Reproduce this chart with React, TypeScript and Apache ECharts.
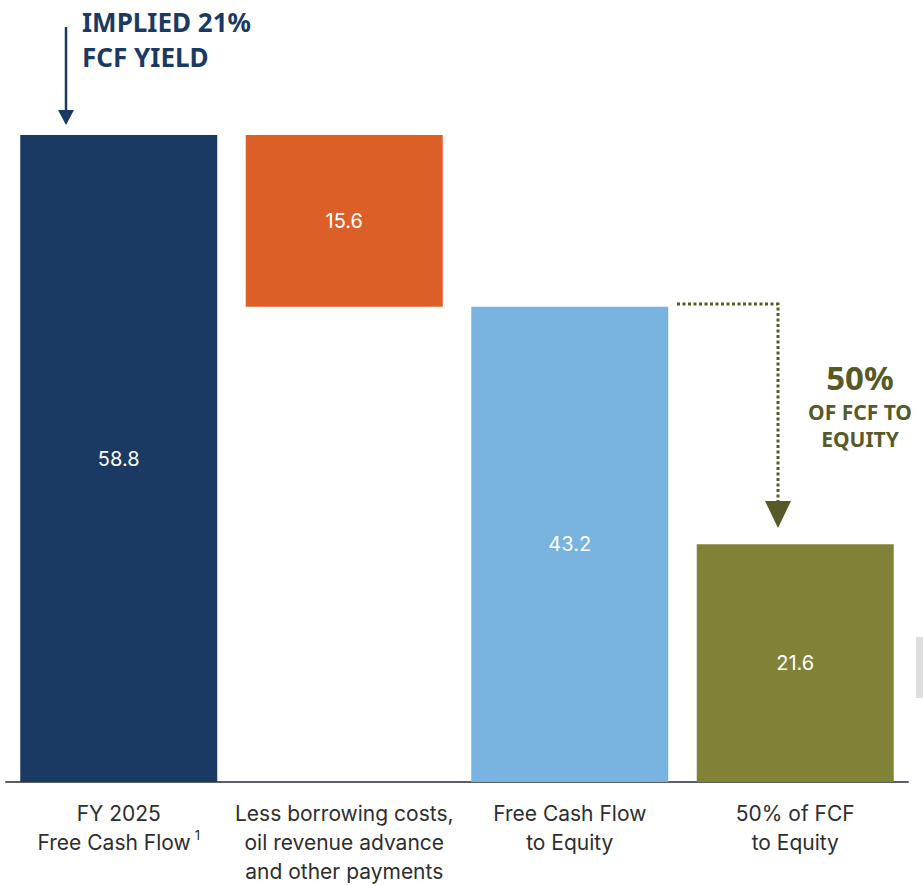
import React, { useEffect, useRef } from "react";
import * as echarts from "echarts";

const categories = [
  "FY 2025\nFree Cash Flow{sup|1}",
  "Less borrowing costs,\noil revenue advance\nand other payments",
  "Free Cash Flow\nto Equity",
  "50% of FCF\nto Equity",
];
const baseValues = [0, 43.2, 0, 0];
const barValues = [58.8, 15.6, 43.2, 21.6];
const barColors = ["#1b3a63", "#dd5f28", "#79b3df", "#808238"];

const NAVY = "#1b3a63";
const OLIVE = "#575a27";
const FONT = "Inter, 'Noto Sans', sans-serif";
const HFONT = "'Noto Sans', sans-serif";

export default function App() {
  const ref = useRef<HTMLDivElement>(null);
  useEffect(() => {
    if (!ref.current) return;
    const chart = echarts.init(ref.current, undefined, { renderer: "svg" });
    chart.setOption({
      animation: false,
      backgroundColor: "#ffffff",
      grid: { left: 6, right: 15, top: 135, bottom: 94, containLabel: false },
      xAxis: {
        type: "category",
        data: categories,
        axisLine: { show: true, lineStyle: { color: "#5b6068", width: 2 } },
        axisTick: { show: false },
        axisLabel: {
          interval: 0,
          margin: 17,
          color: "#2e2e2e",
          fontFamily: FONT,
          fontSize: 21,
          lineHeight: 29,
          rich: {
            sup: { fontSize: 13, verticalAlign: "top", lineHeight: 20, color: "#2e2e2e", fontFamily: FONT, padding: [0, 0, 12, 4] },
          },
        },
      },
      yAxis: { type: "value", min: 0, max: 58.8, show: false, splitLine: { show: false } },
      series: [
        {
          type: "bar",
          stack: "w",
          data: baseValues,
          barWidth: 197,
          itemStyle: { color: "transparent" },
          silent: true,
        },
        {
          type: "bar",
          stack: "w",
          barWidth: 197,
          data: barValues.map((v, i) => ({ value: v, itemStyle: { color: barColors[i] } })),
          label: {
            show: true,
            position: "inside",
            color: "#ffffff",
            fontFamily: FONT,
            fontSize: 20,
            formatter: (p: any) => p.value.toFixed(1),
          },
        },
      ],
      graphic: [
        // Navy arrow
        { type: "line", shape: { x1: 66, y1: 27, x2: 66, y2: 112 }, style: { stroke: NAVY, lineWidth: 2.5 } },
        { type: "polygon", shape: { points: [[58, 110], [74, 110], [66, 125]] }, style: { fill: NAVY } },
        {
          type: "text",
          x: 82,
          y: 22,
          style: { text: "IMPLIED 21%", fill: NAVY, font: `bold 26px ${HFONT}`, verticalAlign: "middle" },
        },
        {
          type: "text",
          x: 82,
          y: 57,
          style: { text: "FCF YIELD", fill: NAVY, font: `bold 26px ${HFONT}`, verticalAlign: "middle" },
        },
        // Olive dotted arrow
        {
          type: "polyline",
          shape: { points: [[677, 304], [778, 304], [778, 502]] },
          style: { stroke: OLIVE, lineWidth: 3, lineDash: [3, 2.5], fill: "none" },
        },
        { type: "polygon", shape: { points: [[765, 501], [791, 501], [778, 528]] }, style: { fill: OLIVE } },
        {
          type: "text",
          x: 860,
          y: 377,
          style: { text: "50%", fill: OLIVE, font: `bold 33px ${HFONT}`, align: "center", verticalAlign: "middle", lineHeight: 30 },
        },
        {
          type: "text",
          x: 860,
          y: 412,
          style: { text: "OF FCF TO", fill: OLIVE, font: `bold 21px ${HFONT}`, align: "center", verticalAlign: "middle", lineHeight: 21 },
        },
        {
          type: "text",
          x: 860,
          y: 439,
          style: { text: "EQUITY", fill: OLIVE, font: `bold 21px ${HFONT}`, align: "center", verticalAlign: "middle", lineHeight: 21 },
        },
        // clipped gray element at right edge
        { type: "rect", shape: { x: 916, y: 637, width: 10, height: 61 }, style: { fill: "#dedede" } },
      ],
    });
    return () => chart.dispose();
  }, []);
  return (
    <div
      ref={ref}
      style={{ position: "absolute", left: 0, top: 0, width: 923, height: 886 }}
    />
  );
}
